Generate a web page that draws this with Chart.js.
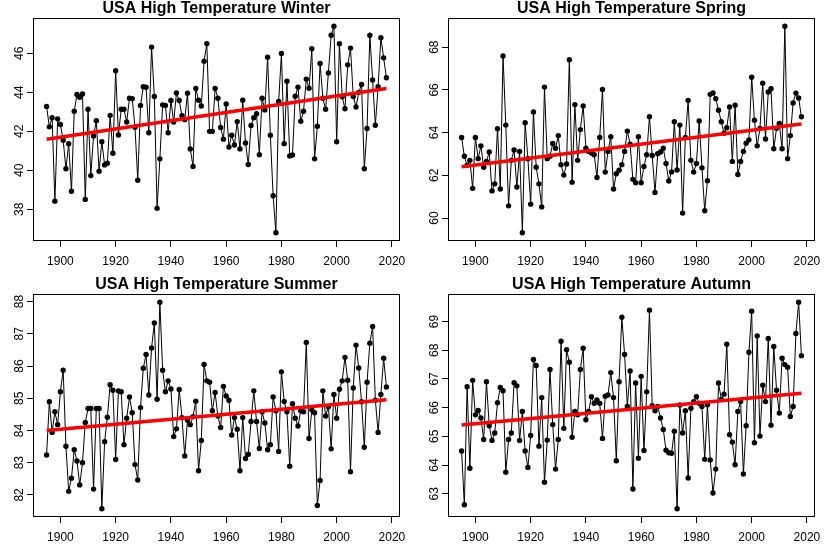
<!DOCTYPE html>
<html><head><meta charset="utf-8">
<script src="https://cdn.jsdelivr.net/npm/chart.js@4.4.0/dist/chart.umd.min.js"></script>
<style>
html,body{margin:0;padding:0;background:#fff;}
#wrap{position:relative;width:829px;height:552px;background:#fff;}
canvas{position:absolute;}
</style></head><body>
<div id="wrap">
<canvas id="c0" width="415" height="276" style="left:0;top:0"></canvas>
<canvas id="c1" width="414" height="276" style="left:415px;top:0"></canvas>
<canvas id="c2" width="415" height="276" style="left:0;top:276px"></canvas>
<canvas id="c3" width="414" height="276" style="left:415px;top:276px"></canvas>
</div>
<script>
const years = [1895,1896,1897,1898,1899,1900,1901,1902,1903,1904,1905,1906,1907,1908,1909,1910,1911,1912,1913,1914,
1915,1916,1917,1918,1919,1920,1921,1922,1923,1924,1925,1926,1927,1928,1929,1930,1931,1932,1933,1934,
1935,1936,1937,1938,1939,1940,1941,1942,1943,1944,1945,1946,1947,1948,1949,1950,1951,1952,1953,1954,
1955,1956,1957,1958,1959,1960,1961,1962,1963,1964,1965,1966,1967,1968,1969,1970,1971,1972,1973,1974,
1975,1976,1977,1978,1979,1980,1981,1982,1983,1984,1985,1986,1987,1988,1989,1990,1991,1992,1993,1994,
1995,1996,1997,1998,1999,2000,2001,2002,2003,2004,2005,2006,2007,2008,2009,2010,2011,2012,2013,2014,
2015,2016,2017,2018];

const winter = [43.28,42.23,42.70,38.42,42.64,42.35,41.55,40.08,41.37,38.93,
43.03,43.89,43.75,43.92,38.51,43.13,39.73,41.76,42.55,39.95,
41.47,40.28,40.37,42.82,40.88,45.11,41.81,43.13,43.13,42.48,
43.70,43.67,42.21,39.49,43.33,44.29,44.26,41.93,46.32,43.79,
38.05,40.59,43.36,43.33,41.93,43.58,42.48,43.97,43.58,42.8,
42.6,43.96,41.1,40.2,44.2,43.6,43.3,45.6,46.5,42.0,
42.0,44.2,43.7,42.2,41.6,43.4,41.2,41.8,41.3,42.5,
41.1,43.6,41.4,40.3,42.3,42.7,42.9,40.8,43.7,43.1,
45.8,41.8,38.7,36.8,43.53,45.99,41.37,44.57,40.74,40.79,
43.80,44.26,42.52,43.03,44.68,44.21,46.24,40.59,42.26,45.48,
43.70,43.13,44.99,46.93,47.39,41.47,46.49,43.77,43.16,45.41,
46.27,43.79,43.25,44.0,44.40,40.08,42.15,46.93,44.63,42.31,
44.29,46.80,45.77,44.75];

const spring = [63.77,62.89,62.47,62.70,61.39,63.77,62.78,63.38,62.38,62.65,
63.09,61.27,61.60,64.18,61.36,67.59,64.35,60.57,62.70,63.19,
61.45,63.12,59.31,64.46,62.78,60.65,64.97,62.38,61.60,60.52,
66.13,62.78,62.89,63.49,63.27,63.86,62.50,62.01,62.53,67.41,
61.68,65.31,62.70,64.14,65.25,63.27,63.12,63.04,62.96,61.90,
63.77,66.02,62.15,63.12,63.81,61.36,62.07,62.24,62.50,63.12,
64.07,63.46,61.81,61.65,63.81,61.65,62.41,62.96,64.74,62.93,
61.20,63.01,63.09,63.27,62.55,61.73,62.16,64.51,62.25,64.35,
60.23,63.77,65.51,62.70,62.15,62.55,64.54,62.35,60.34,61.75,
65.79,65.86,65.59,65.05,64.51,63.97,64.23,65.20,62.65,65.28,
62.04,62.65,63.12,63.50,63.66,66.59,64.58,63.38,64.20,66.31,
63.70,65.90,66.05,63.24,64.20,64.43,63.24,68.98,62.78,63.86,
65.39,65.85,65.62,64.74];

const summer = [83.24,84.89,83.94,84.58,84.18,85.20,85.87,83.51,82.11,82.52,
83.40,83.05,82.31,83.00,84.25,84.68,84.68,82.18,84.68,84.68,
81.57,83.65,84.41,85.42,85.25,83.10,85.23,85.20,83.56,84.38,
85.04,84.55,82.94,82.46,84.71,85.93,86.36,85.10,86.56,87.34,
84.97,87.98,85.87,85.20,85.54,85.29,83.81,84.05,85.27,84.40,
83.21,84.32,84.18,84.43,84.91,82.75,83.69,86.05,85.54,85.50,
84.61,85.18,84.45,84.09,85.37,85.07,84.94,83.86,84.40,84.04,
82.75,84.40,83.13,83.26,84.28,85.23,84.28,83.44,84.58,84.23,
83.40,83.56,85.04,84.61,83.35,85.82,84.90,84.58,82.89,84.83,
84.38,84.14,84.61,84.58,86.73,83.75,84.64,84.55,81.67,82.45,
85.23,84.45,84.74,83.43,85.12,84.38,85.28,85.54,86.27,85.56,
82.72,85.32,86.65,85.94,84.89,83.48,85.50,86.71,87.23,84.94,
83.94,85.12,86.24,85.35];

const autumn = [64.49,62.62,66.73,63.89,66.95,65.75,65.90,65.64,64.89,66.90,
65.37,64.86,65.12,66.17,66.70,66.59,63.75,64.89,65.12,66.87,
66.76,64.86,65.87,64.49,63.92,65.03,67.68,67.47,64.66,66.35,
63.40,64.87,67.33,65.41,63.86,64.89,68.31,65.28,68.02,67.58,
64.97,65.87,65.75,67.33,68.07,65.58,65.87,66.38,66.15,66.27,
66.15,64.93,66.40,66.44,67.22,66.35,64.15,66.90,69.15,67.85,
66.04,67.28,63.17,66.86,64.24,67.09,64.51,66.55,69.39,66.07,
65.89,66.04,65.64,65.24,64.52,64.43,64.41,65.18,62.48,66.09,
65.12,65.89,63.55,65.98,66.21,66.38,66.15,66.04,64.20,66.10,
64.18,63.03,63.86,66.86,66.29,66.47,68.21,65.06,64.80,64.01,
65.87,66.21,63.69,65.37,67.93,69.36,64.78,68.50,65.01,66.78,
66.21,68.41,65.39,68.13,66.61,65.81,67.72,67.50,67.41,65.69,
66.04,68.58,69.67,67.81];

// trend line end points (at first and last year)
const trendYears = [1895, 2018];
const trendWinter = [41.6, 44.2];
const trendSpring = [62.4, 64.4];
const trendSummer = [84.0, 84.95];
const trendAutumn = [65.4, 66.5];

const xTicks = [1900, 1920, 1940, 1960, 1980, 2000, 2020];
const winterTicks = [38, 40, 42, 44, 46];
const springTicks = [60, 62, 64, 66, 68];
const summerTicks = [82, 83, 84, 85, 86, 87, 88];
const autumnTicks = [63, 64, 65, 66, 67, 68, 69];

const titles = ['USA High Temperature Winter', 'USA High Temperature Spring',
                'USA High Temperature Summer', 'USA High Temperature Autumn'];

const FONT = '"Liberation Sans", Arial, Helvetica, sans-serif';

function rRange(arr) {
  const mn = Math.min(...arr), mx = Math.max(...arr);
  const pad = (mx - mn) * 0.04;
  return [mn - pad, mx + pad];
}

const boxPlugin = {
  id: 'box',
  afterDatasetsDraw(chart) {
    const {ctx, chartArea: a} = chart;
    ctx.save();
    ctx.strokeStyle = '#000';
    ctx.lineWidth = 1;
    const l = Math.round(a.left) + 0.5, t = Math.round(a.top) + 0.5;
    const r = Math.round(a.right) - 0.5, b = Math.round(a.bottom) - 0.5;
    ctx.strokeRect(l, t, r - l, b - t);
    ctx.restore();
  }
};

function makeChart(id, title, values, trend, yTicks, rightPad) {
  const xr = rRange(years);
  const yr = rRange(values);
  return new Chart(document.getElementById(id), {
    type: 'line',
    data: {
      labels: years,
      datasets: [
        {
          data: trendYears.map((y, i) => ({x: y, y: trend[i]})),
          borderColor: '#ff0000',
          borderWidth: 3.5,
          pointRadius: 0,
          fill: false,
          order: 0
        },
        {
          data: values,
          borderColor: '#000000',
          borderWidth: 1,
          pointRadius: 2.7,
          pointBackgroundColor: '#000000',
          pointBorderWidth: 0,
          pointHoverRadius: 0,
          fill: false,
          tension: 0,
          order: 1
        }
      ]
    },
    options: {
      responsive: false,
      animation: false,
      devicePixelRatio: 1,
      layout: {padding: {left: 0, right: rightPad, top: 0, bottom: 0}},
      plugins: {
        legend: {display: false},
        tooltip: {enabled: false},
        title: {
          display: true,
          text: title,
          fullSize: false,
          color: '#000',
          padding: 0,
          font: {family: FONT, size: 16, weight: 'bold', lineHeight: 1.125}
        }
      },
      scales: {
        x: {
          type: 'linear',
          min: xr[0],
          max: xr[1],
          afterBuildTicks: (s) => { s.ticks = xTicks.map(v => ({value: v})); },
          afterFit: (s) => { s.height = 35; },
          grid: {display: true, drawOnChartArea: false, drawTicks: true, tickLength: 6, color: '#000', lineWidth: 1},
          border: {display: false},
          ticks: {
            autoSkip: false, maxRotation: 0, minRotation: 0, padding: 7,
            color: '#000', font: {family: FONT, size: 12},
            callback: (v) => String(v)
          }
        },
        y: {
          type: 'linear',
          min: yr[0],
          max: yr[1],
          afterBuildTicks: (s) => { s.ticks = yTicks.map(v => ({value: v})); },
          afterFit: (s) => { s.width = 33; },
          grid: {display: true, drawOnChartArea: false, drawTicks: true, tickLength: 6, color: '#000', lineWidth: 1},
          border: {display: false},
          ticks: {
            autoSkip: false, minRotation: 90, maxRotation: 90, crossAlign: 'center', padding: 1,
            color: '#000', font: {family: FONT, size: 12},
            callback: (v) => String(v)
          }
        }
      }
    },
    plugins: [boxPlugin]
  });
}

makeChart('c0', titles[0], winter, trendWinter, winterTicks, 15);
makeChart('c1', titles[1], spring, trendSpring, springTicks, 14);
makeChart('c2', titles[2], summer, trendSummer, summerTicks, 15);
makeChart('c3', titles[3], autumn, trendAutumn, autumnTicks, 14);
</script>
</body></html>
